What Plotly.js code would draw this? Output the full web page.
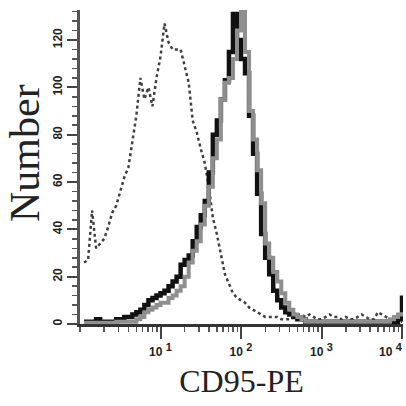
<!DOCTYPE html>
<html>
<head>
<meta charset="utf-8">
<script src="https://cdn.plot.ly/plotly-3.0.1.min.js"></script>
<style>html,body{margin:0;padding:0;background:#fff;}#chart{width:406px;height:406px;}</style>
</head>
<body>
<div id="chart"></div>
<script>
// CD95-PE fluorescence, in decades (log10 of intensity), bin centres
const decades = [0.05,0.10,0.15,0.20,0.25,0.30,0.35,0.40,0.45,0.50,
  0.55,0.60,0.65,0.70,0.75,0.80,0.85,0.90,0.95,1.00,
  1.05,1.10,1.15,1.20,1.25,1.30,1.35,1.40,1.45,1.50,
  1.55,1.60,1.65,1.70,1.75,1.80,1.85,1.90,1.95,2.00,
  2.05,2.10,2.15,2.20,2.25,2.30,2.35,2.40,2.45,2.50,
  2.55,2.60,2.65,2.70,2.75,2.80,2.85,2.90,2.95,3.00,
  3.05,3.10,3.15,3.20,3.25,3.30,3.35,3.40,3.45,3.50,
  3.55,3.60,3.65,3.70,3.75,3.80,3.85,3.90,3.95,4.00];

// isotype control (dotted)
const isotype = [26,27,48,32,34,36,41,47,50,56,
  62,66,78,88,104,95,100,92,104,113,
  127,119,116,116,116,109,102,86,81,74,
  68,58,45,38,30,21,17,13,11,10,
  9,7,6,5,4,3,3,3,3,2,
  2,2,3,4,4,3,4,3,2,2,
  3,4,3,3,2,3,2,2,3,4,
  3,2,2,5,4,3,2,2,1,1];

// CD95 stained, black histogram
const cd95Black = [1,1,1,2,1,1,1,1,2,2,
  3,3,4,5,6,8,10,11,12,13,
  14,16,18,20,25,27,29,35,41,46,
  52,64,80,86,95,103,115,131,120,112,
  106,88,72,55,38,28,21,14,10,7,
  5,4,3,2,2,1,1,1,1,1,
  1,1,1,1,1,1,1,1,1,1,
  1,1,1,1,1,1,1,1,2,12];

// CD95 stained, grey histogram
const cd95Grey = [0.5,0.5,0.5,0.5,0.5,0.5,0.5,0.5,1,1,
  1,1,1,2,3,5,6,7,8,9,
  9,11,12,14,16,20,26,31,35,42,
  50,58,70,78,95,102,104,112,124,132,
  115,90,78,65,51,34,28,22,18,13,
  9,6,4,3,2,1,1,1,1,1,
  1,1,1,1,1,1,1,1,1,1,
  1,1,1,1,1,1,2,3,4,5];

const xTickVals = [1,2,3,4];
const xTickText = ['<b>10 <sup><span style="font-size:11px">1</span></sup></b>',
  '<b>10 <sup><span style="font-size:11px">2</span></sup></b>',
  '<b>10 <sup><span style="font-size:11px">3</span></sup></b>',
  '<b>10 <sup><span style="font-size:11px">4</span></sup></b>&nbsp;&nbsp;&nbsp;&nbsp;&nbsp;&nbsp;&nbsp;'];
const yTickVals = [0,20,40,60,80,100,120];
const yTickText = ['<b>0</b>','<b>20</b>','<b>40</b>','<b>60</b>','<b>80</b>','<b>100</b>','<b>120</b>'];

const minorTickVals = [0];
for (let n = 0; n < 4; n++) {
  for (let k = 2; k <= 9; k++) minorTickVals.push(n + Math.log10(k));
}

const traces = [
  {x: decades, y: isotype, type: 'scatter', mode: 'lines',
   line: {color: '#404040', width: 2.5, dash: 'dot'}, hoverinfo: 'skip'},
  {x: decades, y: cd95Black, type: 'scatter', mode: 'lines',
   line: {color: '#111111', width: 4.5, shape: 'hv'}, hoverinfo: 'skip'},
  {x: decades, y: cd95Grey, type: 'scatter', mode: 'lines',
   line: {color: '#8f8f8f', width: 4, shape: 'hv'}, hoverinfo: 'skip'}
];

const tickFont = {family: 'Liberation Sans, Arial, sans-serif', size: 12, color: '#222'};

const layout = {
  width: 406, height: 406,
  margin: {l: 80, r: 3, t: 10, b: 82},
  paper_bgcolor: '#ffffff', plot_bgcolor: '#ffffff',
  showlegend: false,
  xaxis: {
    range: [0, 4.012], showgrid: false, zeroline: false,
    showline: true, linecolor: '#333', linewidth: 2.5,
    ticks: 'outside', ticklen: 12, tickwidth: 2, tickcolor: '#444',
    tickmode: 'array', tickvals: xTickVals, ticktext: xTickText,
    ticklabeloverflow: 'allow', ticklabelstandoff: 3,
    tickfont: tickFont,
    minor: {tickmode: 'array', tickvals: minorTickVals, ticks: 'outside', ticklen: 5, tickwidth: 1.5, tickcolor: '#555'},
    title: {text: 'CD95-PE', font: {family: 'Liberation Serif, Times New Roman, serif', size: 32, color: '#222'}, standoff: 12}
  },
  yaxis: {
    range: [0, 132.7], showgrid: false, zeroline: false,
    showline: true, linecolor: '#555', linewidth: 3,
    ticks: 'outside', ticklen: 10, tickwidth: 2, tickcolor: '#444',
    tickmode: 'array', tickvals: yTickVals, ticktext: yTickText, tickangle: -90,
    tickfont: tickFont,
    minor: {dtick: 4, ticks: 'outside', ticklen: 5, tickwidth: 1.5, tickcolor: '#555'}
  },
  annotations: [
    {text: 'Number', xref: 'paper', yref: 'paper', x: -0.17, y: 0.545,
     xanchor: 'center', yanchor: 'middle', textangle: -90, showarrow: false,
     font: {family: 'Liberation Serif, Times New Roman, serif', size: 42, color: '#222'}}
  ]
};

Plotly.newPlot('chart', traces, layout, {staticPlot: true, displayModeBar: false});
</script>
</body>
</html>
